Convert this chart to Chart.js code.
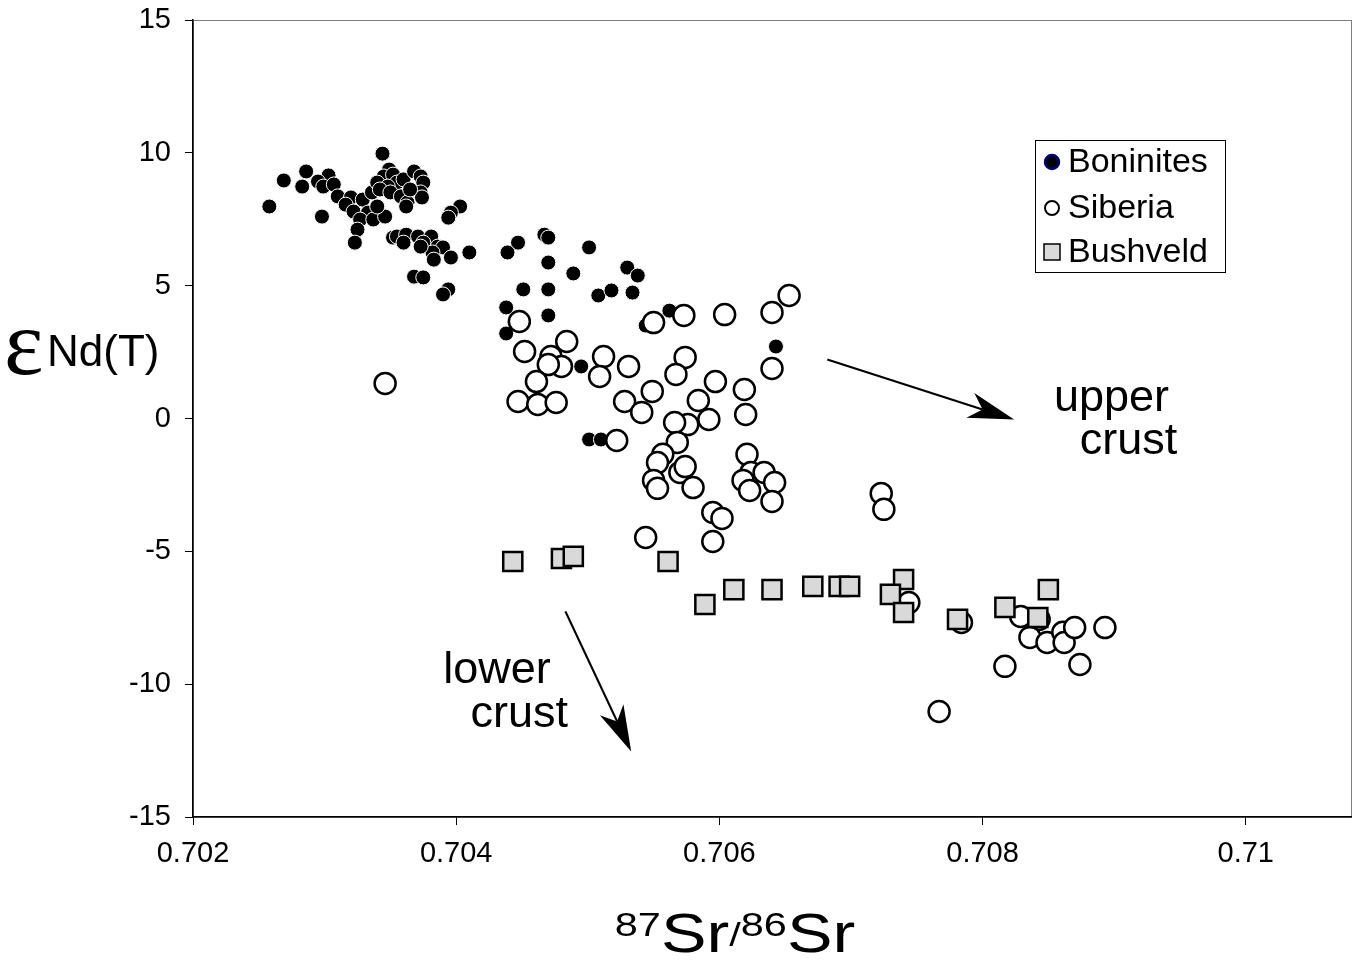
<!DOCTYPE html>
<html>
<head>
<meta charset="utf-8">
<script src="https://cdn.jsdelivr.net/npm/chart.js@4/dist/chart.umd.min.js"></script>
<style>
  html, body { margin: 0; padding: 0; background: #fff; overflow: hidden; }
  canvas { display: block; }
</style>
</head>
<body>
<canvas id="chart" width="1355" height="973"></canvas>
<script>
const xTicks = [0.702, 0.704, 0.706, 0.708, 0.71]
const yTicks = [-15, -10, -5, 0, 5, 10, 15]

// Boninites (filled black)
const boniniteSr = [
  0.70258, 0.70269, 0.70283, 0.70286, 0.70298, 0.70303, 0.70295, 0.70299, 0.70307, 0.70310,
  0.70320, 0.70316, 0.70329, 0.70322, 0.70333, 0.70327, 0.70325, 0.70323, 0.70337, 0.70346,
  0.70340, 0.70336, 0.70344, 0.70349, 0.70345, 0.70340, 0.70352, 0.70355, 0.70348, 0.70342,
  0.70350, 0.70360, 0.70358, 0.70363, 0.70368, 0.70373, 0.70375, 0.70373, 0.70374, 0.70365,
  0.70362, 0.70403, 0.70396, 0.70394, 0.70352, 0.70355, 0.70362, 0.70371, 0.70381, 0.70375,
  0.70386, 0.70390, 0.70382, 0.70383, 0.70373, 0.70360, 0.70396, 0.70410, 0.70368, 0.70375,
  0.70394, 0.70390, 0.70447, 0.70439, 0.70467, 0.70470, 0.70501, 0.70470, 0.70489, 0.70451,
  0.70470, 0.70530, 0.70538, 0.70508, 0.70518, 0.70534, 0.70438, 0.70470, 0.70438, 0.70495,
  0.70562, 0.70544, 0.70643, 0.70501, 0.70510
]
const boniniteNd = [
  7.98, 8.96, 8.73, 9.30, 7.60, 9.15, 8.92, 8.73, 8.81, 8.36,
  8.32, 8.05, 8.24, 7.79, 7.75, 7.49, 7.11, 6.62, 7.49, 7.60,
  7.98, 8.51, 9.97, 9.37, 9.11, 8.88, 9.18, 8.88, 8.73, 8.62,
  8.51, 9.00, 8.36, 8.13, 9.30, 9.11, 8.88, 8.51, 8.32, 8.62,
  7.98, 7.98, 7.75, 7.56, 6.81, 6.85, 6.92, 6.85, 6.85, 6.62,
  6.47, 6.44, 6.25, 5.98, 6.47, 6.62, 6.06, 6.25, 5.34, 5.31,
  4.86, 4.67, 6.62, 6.25, 6.92, 6.81, 6.44, 5.87, 5.46, 4.86,
  4.86, 5.68, 5.38, 4.63, 4.82, 4.74, 4.18, 3.88, 3.20, 1.96,
  4.06, 3.50, 2.71, -0.79, -0.79
]

// Siberia (open circles)
const siberiaSr = [
  0.70346, 0.70448, 0.70452, 0.70484, 0.70472, 0.70480, 0.70470, 0.70461, 0.70447, 0.70462,
  0.70476, 0.70512, 0.70509, 0.70531, 0.70550, 0.70573, 0.70604, 0.70640, 0.70653, 0.70640,
  0.70574, 0.70567, 0.70597, 0.70619, 0.70549, 0.70528, 0.70541, 0.70584, 0.70592, 0.70576,
  0.70566, 0.70620, 0.70522, 0.70568, 0.70621, 0.70557, 0.70553, 0.70550, 0.70553, 0.70570,
  0.70574, 0.70580, 0.70624, 0.70618, 0.70623, 0.70634, 0.70642, 0.70640, 0.70595, 0.70602,
  0.70544, 0.70595, 0.70723, 0.70725, 0.70744, 0.70784, 0.70829, 0.70843, 0.70836, 0.70849,
  0.70861, 0.70862, 0.70870, 0.70893, 0.70874, 0.70817, 0.70767
]
const siberiaNd = [
  1.32, 3.65, 2.52, 2.90, 2.33, 1.96, 2.03, 1.39, 0.64, 0.53,
  0.60, 2.33, 1.58, 1.96, 3.61, 3.88, 3.91, 3.99, 4.63, 1.88,
  2.30, 1.66, 1.39, 1.09, 1.02, 0.64, 0.23, 0.68, -0.04, -0.23,
  -0.15, 0.15, -0.83, -0.90, -1.35, -1.35, -1.66, -2.33, -2.63, -2.03,
  -1.81, -2.60, -2.03, -2.33, -2.71, -2.03, -2.41, -3.12, -3.54, -3.76,
  -4.48, -4.63, -2.82, -3.42, -6.93, -7.68, -7.45, -7.56, -8.24, -8.43,
  -8.05, -8.43, -7.87, -7.87, -9.26, -9.33, -11.03
]

// Bushveld (grey squares)
const bushveldSr = [
  0.70443, 0.70480, 0.70489, 0.70561, 0.70589, 0.70611, 0.70640, 0.70671, 0.70691, 0.70699,
  0.70740, 0.70730, 0.70740, 0.70781, 0.70817, 0.70842, 0.70850
]
const bushveldNd = [
  -5.38, -5.27, -5.19, -5.38, -7.00, -6.44, -6.44, -6.32, -6.32, -6.32,
  -6.06, -6.62, -7.30, -7.56, -7.11, -7.49, -6.44
]

// arrows and their labels, in data units
const arrows = [
  { from: [0.70682, 2.22], to: [0.70824, -0.04] },
  { from: [0.70483, -7.26], to: [0.70533, -12.53] }
]
const notes = [
  { text: 'upper', at: [0.70898, 0.30] },
  { text: 'crust', at: [0.70911, -1.35] },
  { text: 'lower', at: [0.70431, -9.94] },
  { text: 'crust', at: [0.70448, -11.63] }
]

const FONT = '"Liberation Sans", Arial, Helvetica, sans-serif'
const zip = (xs, ys) => xs.map((x, i) => ({ x: x, y: ys[i] }))

const framePlugin = {
  id: 'frame',
  beforeDraw(chart) {
    const { ctx, chartArea: a } = chart
    ctx.save()
    ctx.strokeStyle = '#7f7f7f'
    ctx.lineWidth = 1
    ctx.strokeRect(a.left + 0.5, a.top + 0.5, a.right - a.left, a.bottom - a.top)
    ctx.restore()
  }
}

function drawArrow(ctx, x1, y1, x2, y2, len, wid) {
  const ang = Math.atan2(y2 - y1, x2 - x1)
  const ux = Math.cos(ang), uy = Math.sin(ang)
  const px = -uy, py = ux
  const bx = x2 - ux * len, by = y2 - uy * len
  const nx = x2 - ux * len * 0.72, ny = y2 - uy * len * 0.72
  ctx.beginPath()
  ctx.moveTo(x1, y1)
  ctx.lineTo(nx, ny)
  ctx.stroke()
  ctx.beginPath()
  ctx.moveTo(x2, y2)
  ctx.lineTo(bx + px * wid / 2, by + py * wid / 2)
  ctx.lineTo(nx, ny)
  ctx.lineTo(bx - px * wid / 2, by - py * wid / 2)
  ctx.closePath()
  ctx.fill()
}

const notesPlugin = {
  id: 'notes',
  afterDatasetsDraw(chart) {
    const { ctx, scales: { x, y } } = chart
    ctx.save()
    ctx.strokeStyle = '#000'
    ctx.fillStyle = '#000'
    ctx.lineWidth = 2.2
    arrows.forEach(a => {
      drawArrow(ctx, x.getPixelForValue(a.from[0]), y.getPixelForValue(a.from[1]),
        x.getPixelForValue(a.to[0]), y.getPixelForValue(a.to[1]), 46, 26)
    })
    ctx.font = '45px ' + FONT
    ctx.textAlign = 'center'
    ctx.textBaseline = 'alphabetic'
    notes.forEach(n => {
      ctx.fillText(n.text, x.getPixelForValue(n.at[0]), y.getPixelForValue(n.at[1]))
    })
    ctx.restore()
  }
}

const legendPlugin = {
  id: 'boxLegend',
  afterDatasetsDraw(chart, args, opts) {
    const { ctx } = chart
    const b = opts.box
    ctx.save()
    ctx.fillStyle = '#fff'
    ctx.fillRect(b.left, b.top, b.width, b.height)
    ctx.strokeStyle = '#000'
    ctx.lineWidth = 1
    ctx.strokeRect(b.left + 0.5, b.top + 0.5, b.width, b.height)
    ctx.font = '34px ' + FONT
    ctx.textBaseline = 'middle'
    ctx.textAlign = 'left'
    const rows = [b.top + 22, b.top + 68, b.top + 112]
    const mx = b.left + 17
    // Boninites
    ctx.beginPath(); ctx.arc(mx, rows[0], 7, 0, Math.PI * 2)
    ctx.fillStyle = '#000'; ctx.fill()
    ctx.strokeStyle = '#000080'; ctx.lineWidth = 2.5; ctx.stroke()
    // Siberia
    ctx.beginPath(); ctx.arc(mx, rows[1], 7, 0, Math.PI * 2)
    ctx.fillStyle = '#fff'; ctx.fill()
    ctx.strokeStyle = '#000'; ctx.lineWidth = 2; ctx.stroke()
    // Bushveld
    ctx.fillStyle = '#d9d9d9'
    ctx.fillRect(mx - 8, rows[2] - 8, 16, 16)
    ctx.strokeStyle = '#000'; ctx.lineWidth = 1.5
    ctx.strokeRect(mx - 8, rows[2] - 8, 16, 16)
    ctx.fillStyle = '#000'
    chart.data.datasets.forEach((ds, i) => {
      ctx.fillText(ds.label, b.left + 33, rows[i] + 1)
    })
    ctx.restore()
  }
}

const titlesPlugin = {
  id: 'titles',
  afterDraw(chart) {
    const { ctx } = chart
    ctx.save()
    ctx.fillStyle = '#000'
    ctx.textBaseline = 'alphabetic'
    ctx.textAlign = 'left'
    // y title: eps Nd(T)
    ctx.font = '94px "Liberation Serif", "Times New Roman", serif'
    ctx.fillText('\u03B5', 4, 374)
    ctx.font = '44px ' + FONT
    ctx.fillText('Nd(T)', 47, 366)

    // x title: 87Sr/86Sr
    const parts = [
      { t: '87', size: 34, dy: -16 },
      { t: 'Sr', size: 56, dy: 0 },
      { t: '/', size: 34, dy: -6 },
      { t: '86', size: 34, dy: -16 },
      { t: 'Sr', size: 56, dy: 0 }
    ]
    const sx = 1.22
    let w = 0
    parts.forEach(p => { ctx.font = p.size + 'px ' + FONT; p.w = ctx.measureText(p.t).width; w += p.w })
    const cx = 735, base = 952
    ctx.translate(cx - w * sx / 2, base)
    ctx.scale(sx, 1)
    let pos = 0
    parts.forEach(p => {
      ctx.font = p.size + 'px ' + FONT
      ctx.fillText(p.t, pos, p.dy)
      pos += p.w
    })
    ctx.restore()
  }
}

new Chart(document.getElementById('chart'), {
  type: 'scatter',
  data: {
    datasets: [
      {
        label: 'Boninites',
        data: zip(boniniteSr, boniniteNd),
        pointStyle: 'circle',
        pointRadius: 7.5,
        backgroundColor: '#000',
        borderColor: '#fff',
        borderWidth: 1,
        order: 3
      },
      {
        label: 'Siberia',
        data: zip(siberiaSr, siberiaNd),
        pointStyle: 'circle',
        pointRadius: 10.5,
        backgroundColor: '#fff',
        borderColor: '#000',
        borderWidth: 2.5,
        order: 2
      },
      {
        label: 'Bushveld',
        data: zip(bushveldSr, bushveldNd),
        pointStyle: 'rect',
        pointRadius: 13.5,
        backgroundColor: '#d9d9d9',
        borderColor: '#000',
        borderWidth: 2.5,
        order: 1
      }
    ]
  },
  options: {
    responsive: false,
    animation: false,
    events: [],
    layout: { autoPadding: false, padding: { top: 20, right: 4, left: 0, bottom: 0 } },
    plugins: {
      legend: { display: false },
      tooltip: { enabled: false },
      boxLegend: { box: { left: 1035, top: 140, width: 190, height: 132 } }
    },
    scales: {
      x: {
        type: 'linear',
        min: 0.702,
        max: 0.7108,
        afterBuildTicks: s => { s.ticks = xTicks.map(v => ({ value: v })) },
        afterFit: s => { s.height = 156; s.paddingLeft = 0; s.paddingRight = 0 },
        ticks: {
          callback: v => String(+v.toFixed(3)),
          font: { family: FONT, size: 29 },
          color: '#000',
          padding: 12,
          maxRotation: 0,
          autoSkip: false
        },
        grid: { drawOnChartArea: false, drawTicks: true, tickLength: 8, tickColor: '#000' },
        border: { color: '#000', width: 1.5 }
      },
      y: {
        min: -15,
        max: 15,
        afterBuildTicks: s => { s.ticks = yTicks.map(v => ({ value: v })) },
        afterFit: s => { s.width = 193; s.paddingTop = 0; s.paddingBottom = 0 },
        ticks: {
          font: { family: FONT, size: 29 },
          color: '#000',
          padding: 14
        },
        grid: { drawOnChartArea: false, drawTicks: true, tickLength: 8, tickColor: '#000' },
        border: { color: '#000', width: 1.5 }
      }
    }
  },
  plugins: [framePlugin, notesPlugin, legendPlugin, titlesPlugin]
})
</script>
</body>
</html>
